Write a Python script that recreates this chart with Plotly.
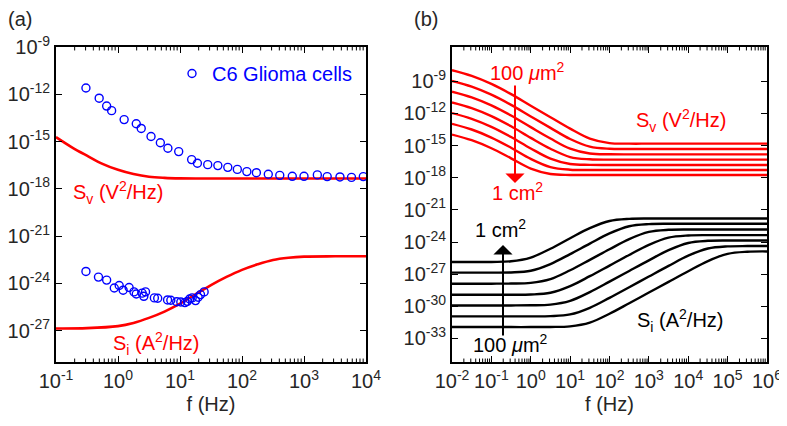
import plotly.graph_objects as go

W, H = 787, 426
PAGE_OFFSET = 8  # browser body margin; targets below are page pixels

# ---------------- Panel (a) data (log10) ----------------
a_cells_sv_f = [0.304, 0.497, 0.656, 0.789, 1.256, 1.97, 2.37, 3.41, 4.82, 6.38, 9.53, 15.4, 19.1,
                28.0, 40.8, 59.0, 84.1, 119.7, 170.6, 265.5, 406.4, 647, 1000, 1641, 2366, 3802,
                5834, 9057]
a_cells_sv_log = [-11.6, -12.25, -12.75, -13.04, -13.61, -13.87, -14.17, -14.68, -15.08, -15.43,
                  -15.64, -16.15, -16.38, -16.47, -16.53, -16.64, -16.77, -16.91, -16.98, -17.08,
                  -17.15, -17.21, -17.21, -17.12, -17.23, -17.25, -17.28, -17.23]

a_cells_si_f = [0.304, 0.484, 0.656, 0.871, 1.045, 1.21, 1.51, 1.81, 1.97, 2.45, 2.61, 2.78, 3.86,
                4.37, 6.30, 7.11, 8.85, 10.3, 12.0, 13.1, 14.3, 15.7, 17.8, 19.6, 21.4, 24.5]
a_cells_si_log = [-23.25, -23.61, -23.8, -24.3, -24.14, -24.44, -24.27, -24.55, -24.68, -24.63,
                  -24.83, -24.55, -24.93, -24.95, -25.06, -25.08, -25.17, -25.19, -25.23, -25.15,
                  -25.0, -24.93, -25.1, -24.89, -24.72, -24.55]

a_sv_model_flog = [-1, -0.75, -0.5, -0.25, 0, 0.25, 0.5, 0.75, 1, 1.5, 2, 3, 4]
a_sv_model_log = [-14.72, -15.35, -15.9, -16.42, -16.8, -17.07, -17.24, -17.31, -17.34, -17.35,
                  -17.35, -17.35, -17.35]

a_si_model_flog = [-1, -0.5, 0, 0.25, 0.5, 0.75, 1, 1.25, 1.5, 1.75, 2, 2.25, 2.5, 2.75, 3, 3.5, 4]
a_si_model_log = [-26.87, -26.85, -26.72, -26.52, -26.2, -25.8, -25.3, -24.7, -24.12, -23.6,
                  -23.15, -22.8, -22.52, -22.38, -22.31, -22.29, -22.29]

# ---------------- Panel (b) data ----------------
b_sv_flog = [-2, -1.5, -1, -0.5, 0, 0.5, 1, 1.5, 2, 2.5, 3, 4, 5, 6]
b_sv_log = [  # 100 um^2 (top) ... 1 cm^2 (bottom)
    [-7.97, -8.5, -9.25, -10.2, -11.28, -12.35, -13.42, -14.35, -14.77, -14.82, -14.82, -14.82, -14.82, -14.82],
    [-8.97, -9.5, -10.25, -11.2, -12.28, -13.35, -14.39, -15.10, -15.30, -15.32, -15.32, -15.32, -15.32, -15.32],
    [-9.97, -10.5, -11.25, -12.2, -13.28, -14.34, -15.29, -15.74, -15.81, -15.82, -15.82, -15.82, -15.82, -15.82],
    [-10.97, -11.5, -12.25, -13.2, -14.28, -15.30, -16.07, -16.28, -16.31, -16.31, -16.31, -16.31, -16.31, -16.31],
    [-11.97, -12.5, -13.25, -14.2, -15.27, -16.22, -16.72, -16.80, -16.81, -16.81, -16.81, -16.81, -16.81, -16.81],
    [-12.97, -13.5, -14.25, -15.2, -16.24, -17.01, -17.25, -17.28, -17.28, -17.28, -17.28, -17.28, -17.28, -17.28],
    [-13.97, -14.5, -15.25, -16.19, -17.15, -17.65, -17.74, -17.75, -17.75, -17.75, -17.75, -17.75, -17.75, -17.75],
]

b_si_flog = [-2, -1, -0.5, 0, 0.5, 1, 1.5, 2, 2.5, 3, 3.5, 4, 4.5, 5, 5.5, 6]
b_si_log = [  # 1 cm^2 (top) ... 100 um^2 (bottom)
    [-25.87, -25.86, -25.80, -25.45, -24.63, -23.65, -22.71, -22.04, -21.84, -21.81, -21.81, -21.81, -21.81, -21.81, -21.81, -21.81],
    [-26.86, -26.86, -26.84, -26.68, -26.06, -25.13, -24.15, -23.20, -22.53, -22.33, -22.30, -22.30, -22.30, -22.30, -22.30, -22.30],
    [-27.89, -27.89, -27.88, -27.82, -27.47, -26.64, -25.67, -24.68, -23.73, -23.06, -22.86, -22.83, -22.83, -22.83, -22.83, -22.83],
    [-28.92, -28.92, -28.92, -28.90, -28.74, -28.12, -27.19, -26.20, -25.21, -24.26, -23.59, -23.39, -23.36, -23.36, -23.36, -23.36],
    [-29.92, -29.92, -29.92, -29.91, -29.85, -29.50, -28.68, -27.70, -26.70, -25.71, -24.76, -24.09, -23.89, -23.86, -23.86, -23.86],
    [-30.94, -30.94, -30.94, -30.94, -30.92, -30.76, -30.14, -29.21, -28.22, -27.22, -26.23, -25.28, -24.61, -24.41, -24.38, -24.38],
    [-31.94, -31.94, -31.94, -31.94, -31.93, -31.87, -31.52, -30.70, -29.72, -28.72, -27.72, -26.73, -25.78, -25.11, -24.91, -24.88],
]

a_xtick_exp = [-1, 0, 1, 2, 3, 4]
a_ytick_exp = [-27, -24, -21, -18, -15, -12, -9]
b_xtick_exp = [-2, -1, 0, 1, 2, 3, 4, 5, 6]
b_ytick_exp = [-33, -30, -27, -24, -21, -18, -15, -12, -9]

FONT = "Liberation Sans, Arial, Helvetica, sans-serif"
RED = "#FF0000"
BLUE = "#0000FF"
TXT = "#262626"


def p10(v):
    return [10 ** x for x in v]


fig = go.Figure()

# panel (a)
fig.add_trace(go.Scatter(x=p10(a_sv_model_flog), y=p10(a_sv_model_log), mode="lines",
                         line=dict(color=RED, width=2.6, shape="spline"), showlegend=False,
                         xaxis="x", yaxis="y"))
fig.add_trace(go.Scatter(x=p10(a_si_model_flog), y=p10(a_si_model_log), mode="lines",
                         line=dict(color=RED, width=2.6, shape="spline"), showlegend=False,
                         xaxis="x", yaxis="y"))
fig.add_trace(go.Scatter(x=a_cells_sv_f, y=p10(a_cells_sv_log), mode="markers",
                         marker=dict(symbol="circle-open", size=8, color=BLUE, line=dict(width=1.4)),
                         name="C6 Glioma cells", showlegend=True, xaxis="x", yaxis="y"))
fig.add_trace(go.Scatter(x=a_cells_si_f, y=p10(a_cells_si_log), mode="markers",
                         marker=dict(symbol="circle-open", size=8, color=BLUE, line=dict(width=1.4)),
                         showlegend=False, xaxis="x", yaxis="y"))

# panel (b)
for row in b_sv_log:
    fig.add_trace(go.Scatter(x=p10(b_sv_flog), y=p10(row), mode="lines",
                             line=dict(color=RED, width=2.4, shape="spline"), showlegend=False,
                             xaxis="x2", yaxis="y2"))
for row in b_si_log:
    fig.add_trace(go.Scatter(x=p10(b_si_flog), y=p10(row), mode="lines",
                             line=dict(color="black", width=2.4, shape="spline"), showlegend=False,
                             xaxis="x2", yaxis="y2"))


def sup_labels(exps):
    return ["10<sup>%d</sup>" % e for e in exps]


def px(x):
    return (x - PAGE_OFFSET) / W


def py(y):
    return 1 - (y - PAGE_OFFSET) / H


axis_common = dict(type="log", showline=True, linecolor="black", linewidth=2, mirror="ticks",
                   ticks="inside", ticklen=6, tickwidth=1.2, tickcolor="black", showgrid=False,
                   zeroline=False, automargin=False, tickfont=dict(family=FONT, size=20, color=TXT))

fig.update_layout(
    width=W, height=H, margin=dict(l=0, r=0, t=0, b=0, autoexpand=False),
    paper_bgcolor="white", plot_bgcolor="white",
    font=dict(family=FONT, size=20, color=TXT),
    xaxis=dict(axis_common, domain=[px(56), px(366)], range=[-1, 4], anchor="y",
               tickmode="array", tickvals=p10(a_xtick_exp), ticktext=sup_labels(a_xtick_exp),
               title=dict(text="f (Hz)", font=dict(family=FONT, size=20, color=TXT), standoff=6)),
    yaxis=dict(axis_common, domain=[py(362), py(47)], range=[-29, -9], anchor="x",
               tickmode="array", tickvals=p10(a_ytick_exp), ticktext=sup_labels(a_ytick_exp)),
    xaxis2=dict(axis_common, domain=[px(452), px(767)], range=[-2, 6], anchor="y2",
                tickmode="array", tickvals=p10(b_xtick_exp), ticktext=sup_labels(b_xtick_exp),
                title=dict(text="f (Hz)", font=dict(family=FONT, size=20, color=TXT), standoff=6)),
    yaxis2=dict(axis_common, domain=[py(362), py(47)], range=[-35.2, -5.8], anchor="x2",
                tickmode="array", tickvals=p10(b_ytick_exp), ticktext=sup_labels(b_ytick_exp)),
    legend=dict(x=px(172), y=py(54), xanchor="left", yanchor="top", bgcolor="rgba(0,0,0,0)",
                font=dict(family=FONT, size=20, color=BLUE), itemwidth=30,
                tracegroupgap=0),
)

# minor x ticks (2..9 per decade) on bottom and top edges
minor_shapes = []
for xr, yr, lo, hi in (("x", "y domain", -1, 4), ("x2", "y2 domain", -2, 6)):
    for d in range(lo, hi):
        for m in range(2, 10):
            xv = m * 10 ** d
            for y0, y1 in ((0, 0.011), (1, 0.989)):
                minor_shapes.append(dict(type="line", xref=xr, yref=yr, x0=xv, x1=xv, y0=y0, y1=y1,
                                         line=dict(color="black", width=1)))
fig.update_layout(shapes=minor_shapes)


def label(x, y, text, color=TXT, size=20):
    fig.add_annotation(x=px(x), y=py(y), xref="paper", yref="paper", text=text, showarrow=False,
                       font=dict(family=FONT, size=size, color=color), xanchor="center",
                       yanchor="middle")


label(20, 19, "(a)")
label(426, 19, "(b)")
label(118, 193, "S<sub>v</sub> (V<sup>2</sup>/Hz)", RED)
label(156, 343, "S<sub>i</sub> (A<sup>2</sup>/Hz)", RED)
label(527, 72, "100 <i>μ</i>m<sup>2</sup>", RED)
label(518, 191, "1 cm<sup>2</sup>", RED)
label(681, 121, "S<sub>v</sub> (V<sup>2</sup>/Hz)", RED)
label(501, 228, "1 cm<sup>2</sup>", "black")
label(510, 343, "100 <i>μ</i>m<sup>2</sup>", "black")
label(680, 320, "S<sub>i</sub> (A<sup>2</sup>/Hz)", "black")

# arrows
fig.add_annotation(x=px(515), y=py(183), xref="paper", yref="paper", ax=0, ay=-99,
                   showarrow=True, arrowhead=1, arrowsize=1.6, arrowwidth=2, arrowcolor=RED, text="")
fig.add_annotation(x=px(503), y=py(245), xref="paper", yref="paper", ax=0, ay=92,
                   showarrow=True, arrowhead=1, arrowsize=1.6, arrowwidth=2, arrowcolor="black", text="")

fig.write_html("out.html")
